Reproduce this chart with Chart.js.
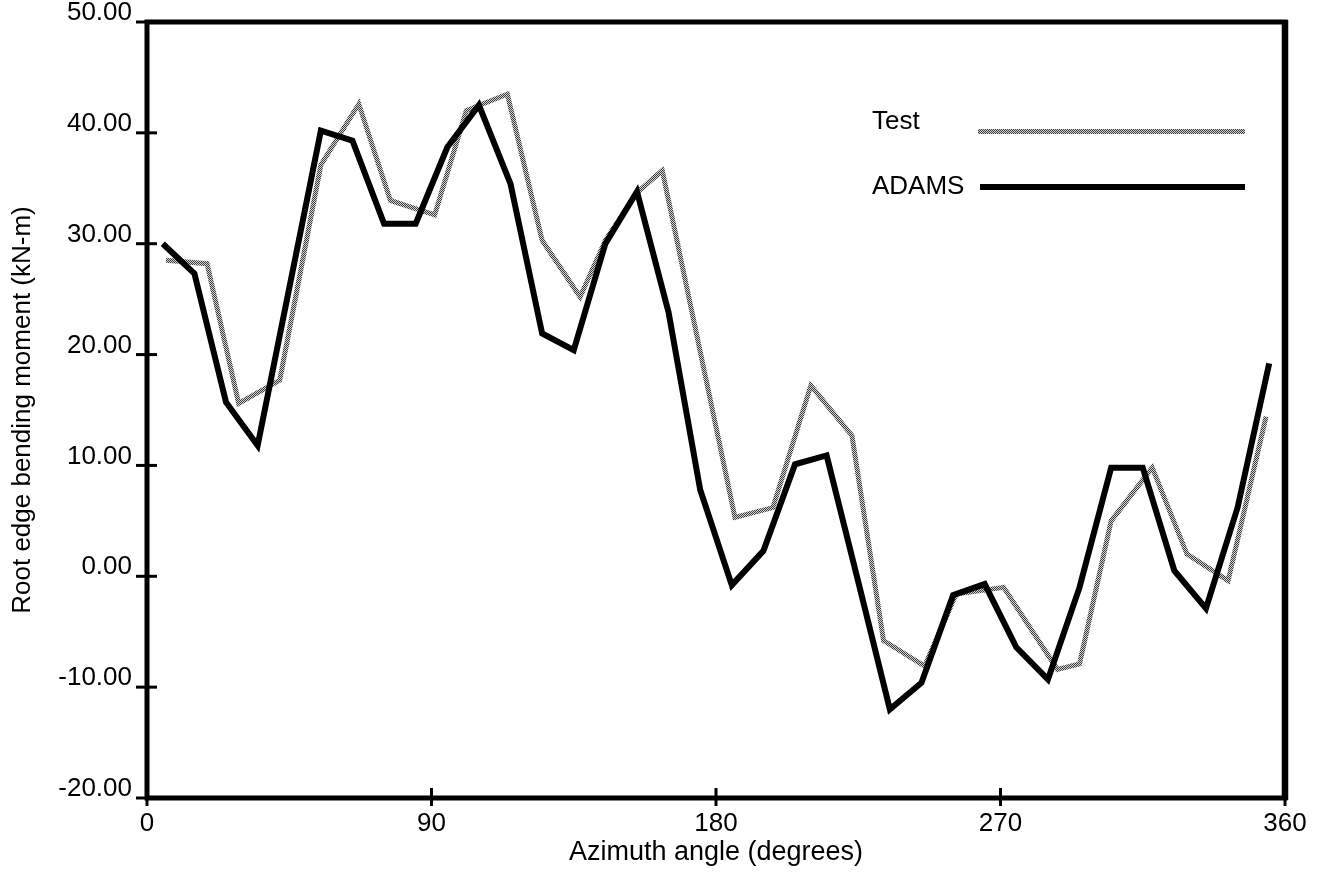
<!DOCTYPE html>
<html>
<head>
<meta charset="utf-8">
<script src="https://cdn.jsdelivr.net/npm/chart.js@4.4.1/dist/chart.umd.min.js"></script>
<style>
html,body{margin:0;padding:0;background:#fff;}
#wrap{width:1320px;height:874px;position:relative;}
canvas{display:block;}
</style>
</head>
<body>
<div id="wrap"><canvas id="c" width="1320" height="874"></canvas></div>
<script>
// ---- data ----
const seriesNames = ['Test', 'ADAMS'];

const adamsAngles = [5, 15, 25, 35, 45, 55, 65, 75, 85, 95, 105, 115, 125, 135, 145, 155, 165, 175,
                     185, 195, 205, 215, 225, 235, 245, 255, 265, 275, 285, 295, 305, 315, 325, 335, 345, 355];
const adamsValues = [30.0, 27.3, 15.7, 11.8, 26.0, 40.2, 39.3, 31.8, 31.8, 38.7, 42.5, 35.4, 21.9, 20.4, 30.0, 34.7, 23.8, 7.8,
                     -0.8, 2.3, 10.1, 10.9, -0.5, -12.0, -9.6, -1.7, -0.7, -6.4, -9.3, -1.0, 9.8, 9.8, 0.5, -2.9, 6.2, 19.2];

const testAngles = [6, 19, 29, 42, 55, 67, 77, 91, 101, 114, 125, 137, 145, 155, 163,
                    186, 198, 210, 223, 233, 246, 256, 271, 288, 295, 305, 318, 329, 342, 354];
const testValues = [28.5, 28.2, 15.6, 17.7, 37.1, 42.6, 33.9, 32.6, 42.0, 43.5, 30.3, 25.2, 30.3, 34.6, 36.6,
                    5.3, 6.2, 17.2, 12.7, -5.8, -8.1, -1.6, -1.0, -8.4, -7.9, 5.0, 9.8, 2.0, -0.4, 14.4];

const xTickValues = [0, 90, 180, 270, 360];
const yTickValues = [-20, -10, 0, 10, 20, 30, 40, 50];

const xTitle = 'Azimuth angle (degrees)';
const yTitle = 'Root edge bending moment (kN-m)';

// ---- rendering ----
const FONT = '"Liberation Sans", Arial, Helvetica, sans-serif';
const canvas = document.getElementById('c');
const mainCtx = canvas.getContext('2d');

function makeDither() {
  const p = document.createElement('canvas');
  p.width = 2; p.height = 2;
  const g = p.getContext('2d');
  g.fillStyle = '#d4d4d4'; g.fillRect(0, 0, 2, 2);
  g.fillStyle = '#3c3c3c'; g.fillRect(0, 0, 1, 1); g.fillRect(1, 1, 1, 1);
  return mainCtx.createPattern(p, 'repeat');
}
const dither = makeDither();

const toXY = (xs, ys) => xs.map((v, i) => ({ x: v, y: ys[i] }));

const framePlugin = {
  id: 'frame',
  afterDraw(chart) {
    const { ctx, chartArea, scales } = chart;
    const { left, right, top, bottom } = chartArea;
    ctx.save();
    ctx.strokeStyle = '#000';
    ctx.lineWidth = 5;
    ctx.lineJoin = 'miter';
    ctx.strokeRect(left, top, right - left, bottom - top);
    ctx.lineWidth = 6.5;
    ctx.beginPath(); ctx.moveTo(right, top - 2); ctx.lineTo(right, bottom + 2); ctx.stroke();
    ctx.lineWidth = 3;
    ctx.lineCap = 'butt';
    yTickValues.forEach((v, i) => {
      const py = scales.y.getPixelForValue(v);
      const inner = (i === 0 || i === yTickValues.length - 1) ? 0 : 10;
      ctx.beginPath(); ctx.moveTo(left - 11, py); ctx.lineTo(left + inner, py); ctx.stroke();
    });
    xTickValues.forEach((v, i) => {
      const px = scales.x.getPixelForValue(v);
      const inner = (i === 0 || i === xTickValues.length - 1) ? 0 : 10;
      ctx.beginPath(); ctx.moveTo(px, bottom + 8); ctx.lineTo(px, bottom - inner); ctx.stroke();
    });
    ctx.restore();
  }
};

const legendPlugin = {
  id: 'lineLegend',
  afterDraw(chart) {
    const ctx = chart.ctx;
    ctx.save();
    ctx.font = '26px ' + FONT;
    ctx.fillStyle = '#000';
    ctx.textAlign = 'left';
    ctx.textBaseline = 'middle';
    ctx.fillText(seriesNames[0], 872, 122);
    ctx.fillText(seriesNames[1], 872, 187);
    ctx.lineCap = 'butt';
    ctx.strokeStyle = dither; ctx.lineWidth = 5;
    ctx.beginPath(); ctx.moveTo(978, 131.5); ctx.lineTo(1245, 131.5); ctx.stroke();
    ctx.strokeStyle = '#000'; ctx.lineWidth = 6;
    ctx.beginPath(); ctx.moveTo(980, 187); ctx.lineTo(1245, 187); ctx.stroke();
    ctx.restore();
  }
};

new Chart(canvas, {
  type: 'line',
  data: {
    datasets: [
      {
        label: seriesNames[1],
        data: toXY(adamsAngles, adamsValues),
        borderColor: '#000',
        borderWidth: 6,
        borderJoinStyle: 'miter',
        borderCapStyle: 'butt',
        pointRadius: 0,
        tension: 0,
        fill: false
      },
      {
        label: seriesNames[0],
        data: toXY(testAngles, testValues),
        borderColor: dither,
        borderWidth: 5,
        borderJoinStyle: 'miter',
        borderCapStyle: 'butt',
        pointRadius: 0,
        tension: 0,
        fill: false
      }
    ]
  },
  options: {
    responsive: false,
    animation: false,
    devicePixelRatio: 1,
    layout: { padding: { left: 0, top: 22, right: 35, bottom: 0 } },
    plugins: { legend: { display: false }, tooltip: { enabled: false } },
    scales: {
      x: {
        type: 'linear',
        min: 0, max: 360,
        afterBuildTicks: s => { s.ticks = xTickValues.map(v => ({ value: v })); },
        afterFit: s => { s.height = 76; s.paddingLeft = 0; s.paddingRight = 0; },
        grid: { display: false, drawTicks: false },
        border: { display: false },
        ticks: { color: '#000', font: { family: FONT, size: 26 }, padding: 10, maxRotation: 0, autoSkip: false },
        title: { display: true, text: xTitle, color: '#000', font: { family: FONT, size: 27 }, padding: { top: 5, bottom: 5 } }
      },
      y: {
        type: 'linear',
        min: -20, max: 50,
        afterBuildTicks: s => { s.ticks = yTickValues.map(v => ({ value: v })); },
        afterFit: s => { s.width = 147; s.paddingTop = 0; s.paddingBottom = 0; },
        grid: { display: false, drawTicks: false },
        border: { display: false },
        ticks: { color: '#000', font: { family: FONT, size: 26 }, padding: 15, autoSkip: false, labelOffset: -9,
                 callback: v => Number(v).toFixed(2) },
        title: { display: true, text: yTitle, color: '#000', font: { family: FONT, size: 26 }, padding: { top: 7, bottom: 7 } }
      }
    }
  },
  plugins: [framePlugin, legendPlugin]
});
</script>
</body>
</html>
